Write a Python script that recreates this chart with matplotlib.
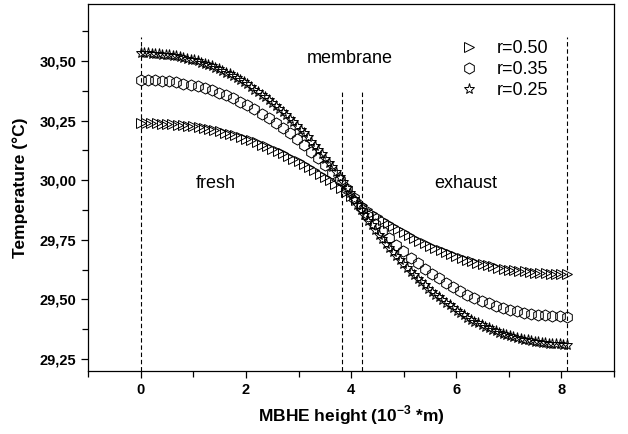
import numpy as np
import matplotlib
matplotlib.use("Agg")
import matplotlib.pyplot as plt
from matplotlib.ticker import MultipleLocator, FuncFormatter

plt.rcParams["font.family"] = ["Liberation Sans", "DejaVu Sans"]
plt.rcParams["mathtext.fontset"] = "custom"
plt.rcParams["mathtext.rm"] = "Liberation Sans:bold"
plt.rcParams["mathtext.bf"] = "Liberation Sans:bold"

# ----------------------------------------------------------------------
# Data
# ----------------------------------------------------------------------
height_end = 8.1   # MBHE height covered by the curves (1e-3 m)

# r = 0.50  (open right triangles)
temp_r050 = [
    30.242, 30.241, 30.241, 30.240, 30.238, 30.237, 30.236, 30.234, 30.231, 30.229,
    30.226, 30.223, 30.219, 30.215, 30.210, 30.205, 30.200, 30.195, 30.189, 30.182,
    30.175, 30.167, 30.159, 30.150, 30.142, 30.132, 30.123, 30.113, 30.102, 30.091,
    30.080, 30.067, 30.054, 30.041, 30.027, 30.013, 29.999, 29.984, 29.969, 29.951,
    29.933, 29.915, 29.897, 29.879, 29.864, 29.849, 29.835, 29.821, 29.807, 29.794,
    29.781, 29.768, 29.757, 29.746, 29.735, 29.725, 29.716, 29.706, 29.698, 29.689,
    29.681, 29.673, 29.666, 29.659, 29.653, 29.648, 29.643, 29.638, 29.633, 29.629,
    29.625, 29.622, 29.619, 29.617, 29.614, 29.612, 29.611, 29.610, 29.608, 29.607,
    29.607, 29.606,
]

# r = 0.35  (open hexagons)
temp_r035 = [
    30.423, 30.422, 30.420, 30.418, 30.415, 30.411, 30.406, 30.401, 30.394, 30.386,
    30.377, 30.367, 30.356, 30.344, 30.330, 30.315, 30.298, 30.280, 30.262, 30.242,
    30.221, 30.198, 30.175, 30.148, 30.120, 30.092, 30.062, 30.032, 30.000, 29.963,
    29.925, 29.887, 29.850, 29.818, 29.788, 29.758, 29.730, 29.702, 29.675, 29.652,
    29.629, 29.608, 29.588, 29.570, 29.552, 29.535, 29.520, 29.506, 29.494, 29.483,
    29.473, 29.464, 29.456, 29.449, 29.444, 29.439, 29.435, 29.432, 29.430, 29.428,
    29.427,
]

# r = 0.25  (open stars)
temp_r025 = [
    30.535, 30.534, 30.533, 30.532, 30.531, 30.530, 30.528, 30.526, 30.525, 30.523,
    30.520, 30.517, 30.514, 30.511, 30.507, 30.503, 30.499, 30.494, 30.489, 30.484,
    30.478, 30.472, 30.466, 30.459, 30.452, 30.445, 30.438, 30.430, 30.421, 30.412,
    30.403, 30.392, 30.381, 30.370, 30.359, 30.348, 30.336, 30.324, 30.312, 30.299,
    30.286, 30.273, 30.259, 30.244, 30.229, 30.213, 30.197, 30.180, 30.162, 30.145,
    30.127, 30.110, 30.091, 30.073, 30.054, 30.034, 30.014, 29.992, 29.969, 29.946,
    29.922, 29.898, 29.875, 29.852, 29.830, 29.810, 29.790, 29.771, 29.753, 29.734,
    29.717, 29.699, 29.682, 29.664, 29.647, 29.631, 29.615, 29.600, 29.585, 29.571,
    29.558, 29.545, 29.532, 29.520, 29.508, 29.496, 29.485, 29.474, 29.463, 29.452,
    29.441, 29.432, 29.423, 29.414, 29.406, 29.399, 29.392, 29.385, 29.378, 29.372,
    29.366, 29.360, 29.355, 29.350, 29.345, 29.341, 29.337, 29.333, 29.330, 29.327,
    29.324, 29.321, 29.319, 29.318, 29.316, 29.314, 29.313, 29.312, 29.311, 29.310,
    29.309,
]

series_labels = ["r=0.50", "r=0.35", "r=0.25"]

# region boundaries (dashed lines) and the height they reach
boundary_x = [0.0, 3.83, 4.21, 8.11]
boundary_top = [30.60, 30.37, 30.37, 30.60]

region_names = ["fresh", "membrane", "exhaust"]
region_pos = [(1.42, 29.985), (3.98, 30.512), (6.18, 29.985)]

# ----------------------------------------------------------------------
# Figure
# ----------------------------------------------------------------------
fig = plt.figure(figsize=(6.28, 4.34), dpi=100)
fig.patch.set_facecolor("white")
ax = fig.add_axes([0.1406, 0.1458, 0.8371, 0.8449])

Y_MIN, Y_MAX = 29.2, 30.74

for bx, bt in zip(boundary_x, boundary_top):
    ax.vlines(bx, Y_MIN, bt, colors="black", linestyles=(0, (4, 2.5)),
              linewidth=0.8, zorder=1)

styles = [
    (temp_r050, ">", 7.0),
    (temp_r035, "h", 8.0),
    (temp_r025, "*", 8.0),
]
for (temps, mk, ms), lab in zip(styles, series_labels):
    x = np.linspace(0, height_end, len(temps))
    ax.plot(x, temps, linestyle="none", marker=mk, markersize=ms,
            markerfacecolor="none", markeredgecolor="black",
            markeredgewidth=0.7, label=lab, zorder=3)

for name, (tx, ty) in zip(region_names, region_pos):
    ax.text(tx, ty, name, ha="center", va="center", fontsize=13)

ax.set_xlim(-1, 9)
ax.set_ylim(Y_MIN, Y_MAX)
ax.xaxis.set_major_locator(MultipleLocator(2))
ax.xaxis.set_minor_locator(MultipleLocator(1))
ax.yaxis.set_major_locator(MultipleLocator(0.25))
ax.yaxis.set_minor_locator(MultipleLocator(0.125))
ax.yaxis.set_major_formatter(FuncFormatter(lambda v, p: f"{v:.2f}".replace(".", ",")))
ax.xaxis.set_major_formatter(FuncFormatter(lambda v, p: f"{v:.0f}"))

ax.tick_params(which="both", direction="out", top=False, right=False,
               width=0.9, labelsize=10.5)
ax.tick_params(which="major", length=5)
ax.tick_params(which="minor", length=4)
for lbl in ax.get_xticklabels() + ax.get_yticklabels():
    lbl.set_fontweight("bold")
for sp in ax.spines.values():
    sp.set_linewidth(0.9)

ax.set_xlabel(r"MBHE height (10$^{-3}$ *m)", fontsize=12.5, fontweight="bold", labelpad=5)
ax.set_ylabel("Temperature (°C)", fontsize=12.5, fontweight="bold", labelpad=8)

ax.legend(loc="upper left", bbox_to_anchor=(0.707, 0.901), frameon=False,
          fontsize=13, handlelength=1.0, handletextpad=1.06, labelspacing=0.22,
          borderpad=0, borderaxespad=0, numpoints=1)

fig.savefig("out.png", dpi=100, facecolor="white")
